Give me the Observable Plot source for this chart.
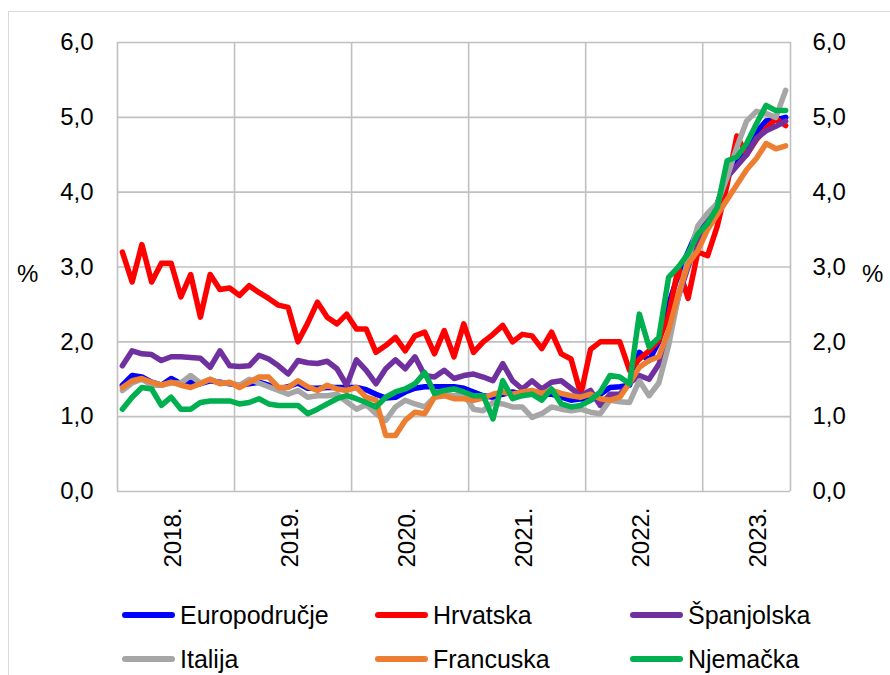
<!DOCTYPE html>
<html>
<head>
<meta charset="utf-8">
<script src="https://cdn.jsdelivr.net/npm/d3@7"></script>
<script src="https://cdn.jsdelivr.net/npm/@observablehq/plot@0.6"></script>
<style>
  body { margin: 0; background: #fff; font-family: "Liberation Sans", Arial, sans-serif; }
  #wrap { position: relative; width: 890px; height: 675px; overflow: hidden; background: #fff; }
  #frame { position: absolute; left: 8px; top: 11px; width: 1000px; height: 1000px; border: 1px solid #d9d9d9; }
  #chart { position: absolute; left: 0; top: 0; }
  .pct { position: absolute; font-size: 24px; color: #000; line-height: 1; }
  .leg { position: absolute; font-size: 25px; color: #000; line-height: 1; display: flex; align-items: center; }
  .leg .sw { display: inline-block; width: 53px; height: 6px; border-radius: 3px; margin-right: 5px; }
</style>
</head>
<body>
<div id="wrap">
  <div id="frame"></div>
  <div id="chart"></div>
  <div class="pct" style="left:17px; top:262px;">%</div>
  <div class="pct" style="left:862px; top:262px;">%</div>
  <div id="legend"></div>
</div>
<script>
// Monthly data, Jan 2018 – Sep 2023 (69 months), in %
const years = ["2018.", "2019.", "2020.", "2021.", "2022.", "2023."];
const yTicks = [0, 1, 2, 3, 4, 5, 6];

const europodrucje = [
  1.42, 1.55, 1.53, 1.46, 1.42, 1.51, 1.44, 1.46, 1.44, 1.48,
  1.46, 1.44, 1.42, 1.44, 1.46, 1.42, 1.37, 1.40, 1.45, 1.38,
  1.38, 1.39, 1.39, 1.39, 1.39, 1.36, 1.30, 1.25, 1.26, 1.33,
  1.38, 1.40, 1.40, 1.40, 1.40, 1.38, 1.33, 1.28, 1.26, 1.30,
  1.33, 1.30, 1.31, 1.30, 1.30, 1.26, 1.22, 1.24, 1.22, 1.30,
  1.39, 1.40, 1.42, 1.86, 1.75, 2.00, 2.50, 2.90, 3.20, 3.50,
  3.65, 3.85, 4.20, 4.45, 4.60, 4.80, 4.95, 4.97, 5.00
];
const hrvatska = [
  3.20, 2.80, 3.30, 2.80, 3.05, 3.05, 2.60, 2.90, 2.33, 2.90,
  2.70, 2.72, 2.62, 2.75, 2.66, 2.58, 2.49, 2.46, 2.00, 2.25,
  2.53, 2.33, 2.24, 2.37, 2.17, 2.17, 1.86, 1.95, 2.06, 1.88,
  2.08, 2.13, 1.84, 2.15, 1.80, 2.24, 1.86, 2.00, 2.10, 2.22,
  2.00, 2.10, 2.08, 1.91, 2.13, 1.84, 1.77, 1.30, 1.90, 2.00,
  2.00, 2.00, 1.62, 1.77, 1.88, 2.02, 2.35, 3.00, 2.58, 3.20,
  3.15, 3.55, 4.10, 4.75, 4.50, 4.70, 4.85, 4.98, 4.89
];
const spanjolska = [
  1.68, 1.88, 1.84, 1.83, 1.75, 1.80, 1.80, 1.79, 1.78, 1.66,
  1.88, 1.68, 1.67, 1.68, 1.82, 1.77, 1.68, 1.57, 1.75, 1.72,
  1.71, 1.74, 1.64, 1.42, 1.76, 1.62, 1.44, 1.64, 1.76, 1.64,
  1.80, 1.55, 1.53, 1.62, 1.51, 1.55, 1.57, 1.53, 1.48, 1.71,
  1.48, 1.37, 1.48, 1.37, 1.46, 1.48, 1.38, 1.28, 1.35, 1.15,
  1.30, 1.30, 1.45, 1.55, 1.50, 1.70, 2.10, 2.60, 3.00, 3.35,
  3.60, 3.85, 4.20, 4.35, 4.50, 4.72, 4.82, 4.88, 4.95
];
const italija = [
  1.35, 1.45, 1.50, 1.42, 1.42, 1.45, 1.45, 1.55, 1.45, 1.50,
  1.45, 1.45, 1.42, 1.50, 1.45, 1.40, 1.35, 1.30, 1.35, 1.26,
  1.28, 1.28, 1.30, 1.20, 1.10, 1.16, 1.04, 0.95, 1.13, 1.22,
  1.17, 1.13, 1.26, 1.30, 1.28, 1.31, 1.10, 1.08, 1.19, 1.17,
  1.13, 1.13, 0.99, 1.04, 1.13, 1.10, 1.08, 1.10, 1.06, 1.04,
  1.22, 1.20, 1.19, 1.48, 1.28, 1.45, 1.95, 2.60, 3.10, 3.55,
  3.72, 3.85, 4.20, 4.60, 4.95, 5.08, 5.05, 5.00, 5.36
];
const francuska = [
  1.39, 1.48, 1.51, 1.46, 1.42, 1.46, 1.42, 1.39, 1.44, 1.50,
  1.44, 1.46, 1.39, 1.46, 1.53, 1.53, 1.39, 1.39, 1.48, 1.40,
  1.35, 1.42, 1.37, 1.35, 1.39, 1.26, 1.22, 0.75, 0.75, 0.95,
  1.06, 1.04, 1.26, 1.28, 1.24, 1.24, 1.22, 1.25, 1.30, 1.33,
  1.30, 1.33, 1.35, 1.31, 1.35, 1.31, 1.28, 1.26, 1.30, 1.24,
  1.22, 1.26, 1.45, 1.66, 1.75, 1.80, 2.15, 2.64, 3.04, 3.22,
  3.50, 3.70, 3.90, 4.10, 4.30, 4.45, 4.65, 4.58, 4.62
];
const njemacka = [
  1.10, 1.26, 1.39, 1.37, 1.15, 1.26, 1.10, 1.10, 1.19, 1.21,
  1.21, 1.21, 1.17, 1.19, 1.24, 1.17, 1.15, 1.15, 1.15, 1.04,
  1.10, 1.17, 1.24, 1.28, 1.24, 1.19, 1.13, 1.26, 1.33, 1.37,
  1.44, 1.59, 1.31, 1.35, 1.37, 1.33, 1.28, 1.28, 0.97, 1.48,
  1.24, 1.28, 1.30, 1.22, 1.37, 1.17, 1.13, 1.15, 1.22, 1.33,
  1.55, 1.53, 1.44, 2.37, 1.93, 2.06, 2.86, 3.00, 3.18, 3.44,
  3.58, 3.80, 4.42, 4.47, 4.65, 4.91, 5.16, 5.09, 5.09
];

const names = ["Europodručje", "Hrvatska", "Španjolska", "Italija", "Francuska", "Njemačka"];
const colors = ["#0000FF", "#FF0000", "#7030A0", "#A6A6A6", "#ED7D31", "#00B050"];
const seriesValues = [europodrucje, hrvatska, spanjolska, italija, francuska, njemacka];

const rows = names.flatMap((n, s) => seriesValues[s].map((v, i) => ({name: n, i, v})));
const nMonths = europodrucje.length;
// year boundaries (between December and January) and year centres, in month-index units
const yearBounds = d3.range(0, years.length + 1).map(k => 12 * k - 0.5).filter(b => b <= nMonths - 0.5);
const yearCentres = years.map((y, k) => ({label: y, x: 12 * k + 5.5}));

const fmt = d => d.toFixed(1).replace(".", ",");
const gridColor = "#c0c0c0";

const chart = Plot.plot({
  width: 890,
  height: 590,
  marginLeft: 117,
  marginRight: 100,
  marginTop: 42,
  marginBottom: 99,
  style: {fontFamily: "'Liberation Sans', Arial, sans-serif", fontSize: "24px", color: "#000", background: "transparent", overflow: "visible"},
  x: {domain: [-0.5, nMonths - 0.5], axis: null},
  y: {domain: [0, 6], axis: null},
  color: {domain: names, range: colors},
  marks: [
    Plot.gridY(yTicks, {stroke: gridColor, strokeOpacity: 1, strokeWidth: 1.6}),
    Plot.gridX(yearBounds.concat([nMonths - 0.5]), {stroke: gridColor, strokeOpacity: 1, strokeWidth: 1.6}),
    Plot.axisY(yTicks, {anchor: "left", tickSize: 0, tickPadding: 24, tickFormat: fmt, label: null, fontSize: 24}),
    Plot.axisY(yTicks, {anchor: "right", tickSize: 0, tickPadding: 22, tickFormat: fmt, label: null, fontSize: 24}),
    Plot.line(rows, {x: "i", y: "v", z: "name", stroke: "name", strokeWidth: 5.5, strokeLinejoin: "round", strokeLinecap: "round"}),
    Plot.text(yearCentres, {x: "x", text: "label", frameAnchor: "bottom", rotate: -90, textAnchor: "end", dy: 16, dx: 5, fontSize: 24, fill: "#000"})
  ]
});
document.getElementById("chart").appendChild(chart);

// Legend (two rows of three)
const legendPos = [
  {left: 122, top: 615}, {left: 375, top: 615}, {left: 630, top: 615},
  {left: 122, top: 659}, {left: 375, top: 659}, {left: 630, top: 659}
];
const legend = document.getElementById("legend");
names.forEach((n, k) => {
  const d = document.createElement("div");
  d.className = "leg";
  d.style.left = legendPos[k].left + "px";
  d.style.top = (legendPos[k].top - 14) + "px";
  d.style.height = "28px";
  d.innerHTML = `<span class="sw" style="background:${colors[k]}"></span><span>${n}</span>`;
  legend.appendChild(d);
});
</script>
</body>
</html>
